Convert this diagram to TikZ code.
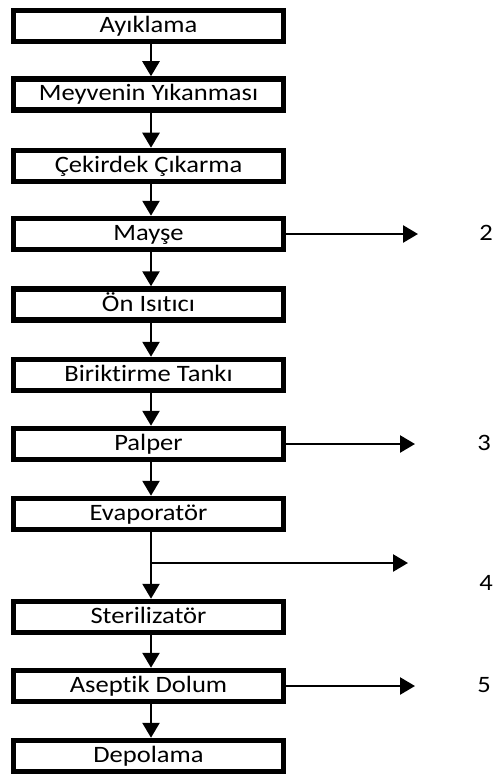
\documentclass[tikz,border=0pt]{standalone}
\usepackage{graphicx}
\usepackage{fontspec}
\setmainfont[Ligatures=NoCommon]{Carlito}
\usetikzlibrary{arrows.meta}
\newcommand\wtxt[1]{\scalebox{1.13}[1]{#1}}
\begin{document}
\begin{tikzpicture}[x=1pt,y=-1pt,
  stepbox/.style={draw=black,line width=5.5pt,fill=white,minimum width=270pt,minimum height=31pt,inner sep=0pt,
    text height=17pt,text depth=4pt,font=\fontsize{23.5}{28}\selectfont},
  arr/.style={line width=2.5pt,-{Triangle[width=17pt,length=15pt]}},
  lbl/.style={font=\fontsize{23.5}{28}\selectfont,inner sep=0pt}]
\useasboundingbox (0,0) rectangle (499,778);
\node[stepbox] (b1) at (148.5,26) {\wtxt{Ayıklama}};
\node[stepbox] (b2) at (148.5,94.5) {\wtxt{Meyvenin Yıkanması}};
\node[stepbox] (b3) at (148.5,166) {\wtxt{Çekirdek Çıkarma}};
\node[stepbox] (b4) at (148.5,234) {\wtxt{Mayşe}};
\node[stepbox] (b5) at (148.5,304.5) {\wtxt{Ön Isıtıcı}};
\node[stepbox] (b6) at (148.5,375) {\wtxt{Biriktirme Tankı}};
\node[stepbox] (b7) at (148.5,444) {\wtxt{Palper}};
\node[stepbox] (b8) at (148.5,514) {\wtxt{Evaporatör}};
\node[stepbox] (b9) at (148.5,617) {\wtxt{Sterilizatör}};
\node[stepbox] (b10) at (148.5,686) {\wtxt{Aseptik Dolum}};
\node[stepbox] (b11) at (148.5,756) {\wtxt{Depolama}};
\foreach \a/\b in {b1/b2,b2/b3,b3/b4,b4/b5,b5/b6,b6/b7,b7/b8,b8/b9,b9/b10,b10/b11}
  \draw[arr] ([xshift=2.5pt]\a.south) -- ([xshift=2.5pt]\b.north);
\coordinate (t2) at (418,234);
\coordinate (t3) at (415,444);
\coordinate (t5) at (415,686);
\coordinate (br) at (151,563);
\coordinate (t4) at (408,563);
\draw[arr] (b4.east) -- (t2);
\draw[arr] (b7.east) -- (t3);
\draw[arr] (b10.east) -- (t5);
\draw[arr] (br) -- (t4);
\node[lbl] (l2) at (486,233) {\wtxt{2}};
\node[lbl] (l3) at (484,443) {\wtxt{3}};
\node[lbl] (l4) at (486,583) {\wtxt{4}};
\node[lbl] (l5) at (484,685) {\wtxt{5}};
\end{tikzpicture}
\end{document}
